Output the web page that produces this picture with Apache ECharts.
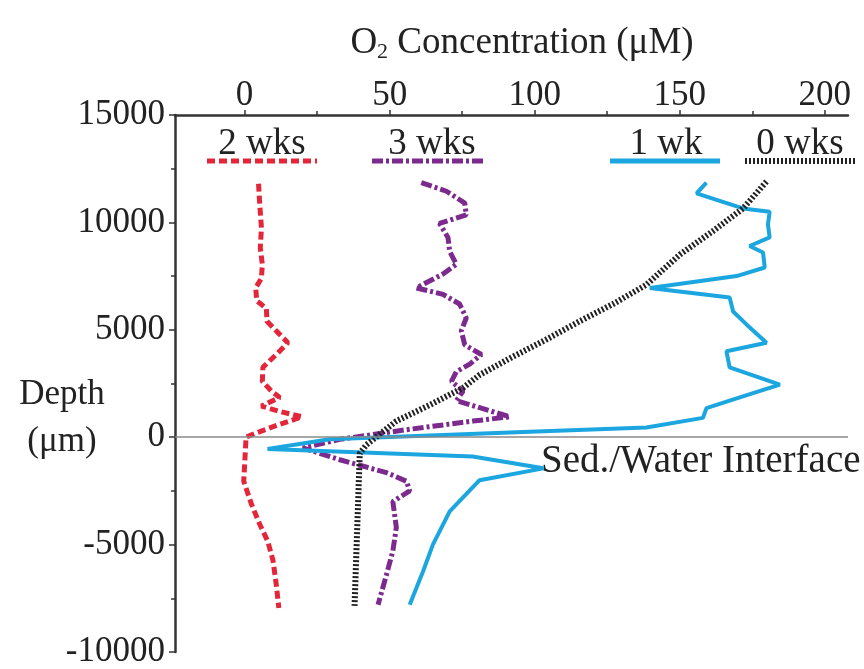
<!DOCTYPE html>
<html>
<head>
<meta charset="utf-8">
<script src="https://cdn.jsdelivr.net/npm/echarts@6/dist/echarts.min.js"></script>
<style>
  html, body { margin: 0; padding: 0; background: #fff; }
  #chart { width: 864px; height: 669px; }
</style>
</head>
<body>
<div id="chart"></div>
<script>
// O2 profiles vs depth (depth in µm, O2 in µM)
const depth2wk = [11800, 10850, 9750, 8800, 8050, 7400, 6950, 6350, 6000, 5400, 4950, 4400, 3850, 3250, 2600, 2150, 1850, 1450, 1200, 950, 600, 200, 0, -2050, -3100, -4050, -4850, -5750, -6850, -7950];
const o2_2wk = [4.8, 5.2, 5.8, 5.4, 6.1, 5.8, 3.8, 4.2, 7.5, 7.7, 10.9, 14.9, 10.9, 6.3, 6.1, 9.2, 12.1, 5.8, 12.1, 19.8, 12.1, 4.0, 0.5, -0.3, 2.3, 5.2, 8.0, 9.8, 10.9, 11.8];

const depth3wk = [11850, 11450, 10900, 10350, 9950, 9300, 8650, 8050, 7600, 6950, 6650, 6200, 5550, 4950, 4300, 3850, 3400, 3050, 2600, 2150, 1700, 950, 750, 350, -100, -500, -1050, -1650, -2050, -2500, -3000, -4200, -5300, -6400, -7800];
const o2_3wk = [60.9, 69.6, 75.9, 76.4, 67.2, 70.1, 70.7, 73.0, 68.4, 59.2, 68.4, 74.1, 76.4, 74.7, 75.9, 81.6, 77.6, 73.0, 71.3, 75.3, 73.0, 91.4, 78.7, 55.8, 32.8, 20.1, 32.8, 48.9, 55.8, 56.9, 51.1, 52.3, 51.1, 48.9, 46.0];

const depth1wk = [11850, 11350, 11050, 10650, 10500, 9900, 9300, 8900, 8600, 7900, 7500, 6950, 6500, 5850, 5250, 4400, 4000, 3250, 2450, 1850, 1350, 900, 450, 250, -100, -550, -900, -1450, -2000, -3450, -5000, -6250, -7800];
const o2_1wk = [159.2, 155.8, 162.7, 171.8, 181.0, 180.4, 181.0, 174.1, 178.7, 179.3, 169.6, 139.7, 167.2, 168.4, 173.0, 179.9, 166.1, 167.2, 184.5, 170.7, 159.2, 158.0, 138.5, 98.3, 29.3, 7.9, 78.6, 103.0, 81.0, 70.7, 64.9, 61.5, 56.9];

const depth0wk = [11900, 10650, 9600, 8500, 7100, 6200, 5400, 4550, 3750, 2900, 2300, 1500, 750, -350, -750, -7850];
const o2_0wk = [179.9, 171.8, 161.5, 150.0, 138.5, 127.0, 115.5, 104.0, 92.5, 81.0, 75.3, 63.8, 52.3, 42.0, 39.7, 37.9];

const concTicks = [0, 50, 100, 150, 200];
const concMinorTicks = [25, 75, 125, 175];
const seriesNames = ['2 wks', '3 wks', '1 wk', '0 wks'];

const FONT = "'Liberation Serif', 'Times New Roman', serif";
const INK = '#222';
const colors = { red: '#e3263a', purple: '#7d2a8f', blue: '#1ca6df', black: '#222' };

function pairs(xs, ys) { return xs.map((x, i) => [x, ys[i]]); }

const chart = echarts.init(document.getElementById('chart'), null, { renderer: 'canvas' });

const axisLineStyle = { color: '#333', width: 2.5 };

// legend sample: label above a short styled line
function legendItem(cx, x1, x2, label, color, dash, width) {
  return [
    { type: 'text', x: cx, y: 126, style: { text: label, font: `37px ${FONT}`, fill: INK, textAlign: 'center' } },
    { type: 'line', shape: { x1: x1, y1: 161, x2: x2, y2: 161 },
      style: { stroke: color, lineWidth: width, lineDash: dash } }
  ];
}

const option = {
  animation: false,
  backgroundColor: '#fff',
  grid: { left: 175, right: 16, top: 115, bottom: 17, outerBoundsMode: 'none' },
  xAxis: [
    {
      type: 'value', position: 'top', min: -24, max: 208,
      axisLine: { show: true, onZero: false, lineStyle: axisLineStyle },
      axisTick: { show: true, customValues: concTicks, length: 5, lineStyle: { color: '#333', width: 1.5 } },
      axisLabel: { customValues: concTicks, fontSize: 35, fontFamily: FONT, color: INK, margin: 2 },
      splitLine: { show: false }
    },
    {
      type: 'value', position: 'top', min: -24, max: 208,
      axisLine: { show: false, onZero: false },
      axisTick: { show: true, customValues: concMinorTicks, length: 4, lineStyle: { color: '#333', width: 1.5 } },
      axisLabel: { show: false },
      splitLine: { show: false }
    }
  ],
  yAxis: {
    type: 'value', min: -10000, max: 15000, interval: 5000,
    axisLine: { show: true, onZero: false, lineStyle: axisLineStyle },
    axisTick: { show: true, length: 6, lineStyle: { color: '#333', width: 1.5 } },
    minorTick: { show: true, splitNumber: 2, length: 4, lineStyle: { color: '#333', width: 1.5 } },
    axisLabel: { fontSize: 35, fontFamily: FONT, color: INK, margin: 10, formatter: v => String(v) },
    splitLine: { show: false }
  },
  series: [
    {
      name: seriesNames[0], type: 'line', data: pairs(o2_2wk, depth2wk), symbol: 'none',
      lineStyle: { color: colors.red, width: 5, type: [8, 4] },
      markLine: {
        silent: true, symbol: ['none', 'none'], label: { show: false },
        lineStyle: { color: '#8a8a8a', width: 1.5, type: 'solid' },
        data: [{ yAxis: 0 }]
      }
    },
    {
      name: seriesNames[1], type: 'line', data: pairs(o2_3wk, depth3wk), symbol: 'none',
      lineStyle: { color: colors.purple, width: 5, type: [11, 3, 3, 3] }
    },
    {
      name: seriesNames[2], type: 'line', data: pairs(o2_1wk, depth1wk), symbol: 'none',
      lineStyle: { color: colors.blue, width: 4, type: 'solid' }
    },
    {
      name: seriesNames[3], type: 'line', data: pairs(o2_0wk, depth0wk), symbol: 'none',
      lineStyle: { color: colors.black, width: 6, type: [2, 2] }
    }
  ],
  graphic: [
    {
      type: 'text', x: 522, y: 23,
      style: {
        text: '{a|O}{s|2}{a| Concentration (μM)}',
        textAlign: 'center',
        rich: {
          a: { font: `37px ${FONT}`, fill: INK },
          s: { font: `22px ${FONT}`, fill: INK, verticalAlign: 'bottom', padding: [18, 0, 0, 0] }
        }
      }
    },
    { type: 'text', x: 62, y: 377, style: { text: 'Depth', font: `35px ${FONT}`, fill: INK, textAlign: 'center' } },
    { type: 'text', x: 62, y: 424, style: { text: '(μm)', font: `35px ${FONT}`, fill: INK, textAlign: 'center' } },
    { type: 'text', x: 541, y: 442, style: { text: 'Sed./Water Interface', font: `39px ${FONT}`, fill: INK } },
    ...legendItem(262, 207, 317, seriesNames[0], colors.red, [8, 4], 5),
    ...legendItem(432, 372, 485, seriesNames[1], colors.purple, [11, 3, 3, 3], 5),
    ...legendItem(666, 610, 720, seriesNames[2], colors.blue, null, 5),
    ...legendItem(800, 745, 855, seriesNames[3], colors.black, [2, 2], 6)
  ]
};

chart.setOption(option);
</script>
</body>
</html>
